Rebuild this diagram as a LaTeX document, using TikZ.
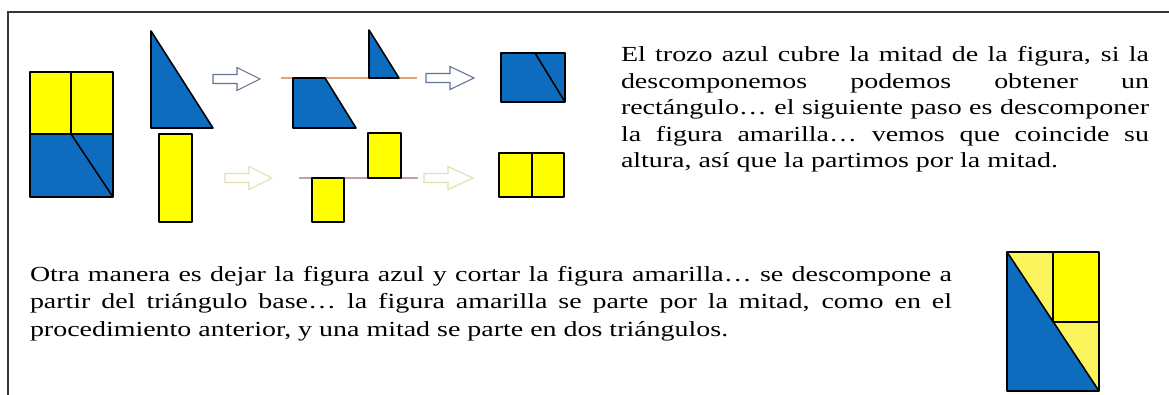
\documentclass[tikz,border=0pt]{standalone}
\usepackage{fontspec}
\setmainfont{Liberation Serif}[FakeStretch=1.30]
\definecolor{figblue}{RGB}{14,108,190}
\definecolor{figyellow}{RGB}{255,255,0}
\definecolor{paleyellow}{RGB}{252,244,92}
\definecolor{arrowblue}{RGB}{100,115,150}
\definecolor{arrowpale}{RGB}{228,222,175}
\definecolor{cutorange}{RGB}{228,160,120}
\definecolor{cutpink}{RGB}{190,160,165}
\definecolor{framegray}{RGB}{55,55,55}
\tikzset{
  piece/.style={draw=black, line width=1.6pt, line join=round},
  bluepiece/.style={piece, fill=figblue},
  yellowpiece/.style={piece, fill=figyellow},
  bluearrow/.style={draw=arrowblue, line width=1.1pt, fill=white, line join=miter},
  palearrow/.style={draw=arrowpale, line width=1.1pt, fill=white, line join=miter},
  cutline/.style={line width=1.2pt},
  textblock/.style={anchor=base west, inner sep=0pt, outer sep=0pt},
  frameline/.style={draw=framegray, line width=1.3pt}
}
\newcommand\fatarrow[4]{%
  \draw[#1] (#2,#3-4.5) -- (#2+24,#3-4.5) -- (#2+24,#3-11.5) -- (#4,#3)
    -- (#2+24,#3+11.5) -- (#2+24,#3+4.5) -- (#2,#3+4.5) -- cycle;}
\begin{document}
\begin{tikzpicture}[x=1pt,y=-1pt]
\useasboundingbox (0,0) rectangle (1169,395);
% frame
\draw[frameline] (1169,12) -- (8,12) -- (8,395);

% left composite figure
\fill[figyellow] (30,72) rectangle (113,134);
\fill[figblue] (30,134) rectangle (113,197);
\draw[piece] (30,72) rectangle (113,197);
\draw[piece] (30,134) -- (113,134);
\draw[piece] (71,72) -- (71,134);
\draw[piece] (71,134) -- (113,197);

% large triangle and yellow rectangle
\draw[bluepiece] (151,31) -- (151,128) -- (213,128) -- cycle;
\draw[yellowpiece] (159,134) rectangle (192,222);

% arrows
\fatarrow{bluearrow}{213}{79}{260}
\fatarrow{palearrow}{225}{178}{272}
\fatarrow{bluearrow}{426}{78}{474}
\fatarrow{palearrow}{424}{178}{473}

% upper decomposition
\draw[cutline, draw=cutorange] (281,78) -- (417,78);
\draw[bluepiece] (293,78) -- (325,78) -- (356,128) -- (293,128) -- cycle;
\draw[bluepiece] (369,30) -- (369,78) -- (399,78) -- cycle;

% lower decomposition
\draw[cutline, draw=cutpink] (299,178) -- (418,178);
\draw[yellowpiece] (312,178) rectangle (344,222);
\draw[yellowpiece] (368,133) rectangle (401,178);

% results
\draw[bluepiece] (501,53) rectangle (565,102);
\draw[piece] (535,53) -- (565,102);
\draw[yellowpiece] (499,153) rectangle (564,197);
\draw[piece] (532,153) -- (532,197);

% bottom-right figure
\fill[figblue] (1007,252) -- (1099,391) -- (1007,391) -- cycle;
\fill[paleyellow] (1007,252) -- (1053,252) -- (1053,322) -- cycle;
\fill[figyellow] (1053,252) rectangle (1099,322);
\fill[paleyellow] (1053,322) -- (1099,322) -- (1099,391) -- cycle;
\draw[piece] (1007,252) rectangle (1099,391);
\draw[piece] (1007,252) -- (1099,391);
\draw[piece] (1053,252) -- (1053,322) -- (1099,322);

% texts
\node[textblock] (toptext) at (621,62) {\parbox[t]{528pt}{\fontsize{21.5}{26.5}\selectfont
\makebox[528pt][s]{El trozo azul cubre la mitad de la figura, si la}\\
\makebox[528pt][s]{descomponemos podemos obtener un}\\
\makebox[528pt][s]{rectángulo… el siguiente paso es descomponer}\\
\makebox[528pt][s]{la figura amarilla… vemos que coincide su}\\
altura, así que la partimos por la mitad.}};

\node[textblock] (bottomtext) at (30,281) {\parbox[t]{922pt}{\fontsize{21.5}{27.5}\selectfont
\makebox[922pt][s]{Otra manera es dejar la figura azul y cortar la figura amarilla… se descompone a}\\
\makebox[922pt][s]{partir del triángulo base… la figura amarilla se parte por la mitad, como en el}\\
procedimiento anterior, y una mitad se parte en dos triángulos.}};
\end{tikzpicture}
\end{document}
